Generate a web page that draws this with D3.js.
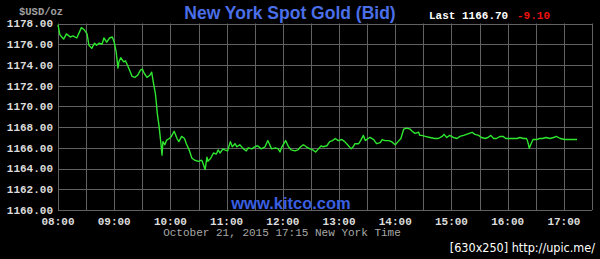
<!DOCTYPE html>
<html><head><meta charset="utf-8">
<script src="https://cdn.jsdelivr.net/npm/d3@7"></script>
<style>
html,body{margin:0;padding:0;background:#000;}
svg{display:block;}
</style></head>
<body>
<svg id="c" width="600" height="259"></svg>
<script>
// minutes after 08:00
const minutes = [0,2,6,9,13,16,20,22,25,28,31,33,36,39,41,44,47,49,52,55,58,60,62,64,65,67,70,72,75,79,82,85,88,90,92,95,98,100,102,104,105,106,108,110,111,112,114,116,119,121,124,127,129,132,135,137,140,143,146,150,153,154,157,159,160,163,166,169,171,173,176,178,181,184,186,189,191,194,198,201,203,207,210,213,217,221,224,228,232,235,237,239,243,246,249,253,256,259,262,265,269,272,275,278,281,283,287,290,293,296,299,303,306,310,313,315,317,321,323,326,328,331,333,337,340,344,346,349,353,356,360,363,366,369,372,376,378,381,385,386,388,392,397,402,406,410,412,415,418,422,426,429,433,436,439,442,445,449,452,456,459,462,465,468,472,475,478,482,486,490,493,497,500,501,502,503,505,507,511,514,517,521,525,529,532,536,541,546,554];
const prices = [1177.9,1176.9,1176.5,1177.0,1176.7,1176.8,1176.6,1177.0,1177.6,1177.4,1177.0,1175.9,1175.6,1176.1,1175.9,1176.1,1176.0,1176.6,1176.2,1176.6,1176.7,1176.2,1175.3,1173.7,1174.3,1174.7,1174.3,1174.4,1173.8,1172.9,1172.8,1173.0,1173.5,1173.6,1173.2,1172.8,1173.0,1173.3,1172.2,1171.2,1170.3,1169.3,1168.0,1166.3,1165.3,1166.6,1166.3,1166.75,1166.9,1167.1,1167.6,1166.9,1166.6,1167.1,1166.9,1166.4,1165.8,1165.0,1164.8,1164.7,1164.8,1164.7,1163.9,1165.1,1164.7,1165.0,1165.5,1165.4,1165.8,1165.5,1165.9,1165.8,1165.7,1166.6,1166.1,1166.4,1166.1,1166.3,1165.9,1165.7,1166.0,1165.9,1166.1,1166.2,1165.9,1166.1,1166.7,1165.9,1166.0,1165.9,1165.6,1166.1,1166.7,1166.1,1165.8,1165.7,1165.8,1166.1,1166.3,1166.1,1165.9,1165.8,1165.6,1165.9,1166.2,1166.1,1166.2,1166.6,1166.7,1166.9,1166.7,1166.8,1166.6,1166.2,1165.9,1166.1,1166.4,1166.4,1166.7,1167.2,1166.7,1166.9,1167.0,1166.8,1166.4,1166.5,1166.8,1166.7,1166.7,1166.6,1166.3,1166.6,1166.9,1167.8,1167.9,1167.8,1167.6,1167.4,1167.5,1167.2,1167.2,1167.1,1167.0,1166.9,1166.9,1167.1,1167.3,1167.0,1167.2,1167.0,1166.9,1167.1,1167.2,1167.3,1167.4,1167.5,1167.3,1167.2,1167.0,1166.9,1167.0,1167.2,1166.9,1166.9,1167.1,1167.1,1166.9,1166.9,1166.9,1166.9,1167.0,1166.9,1166.9,1166.7,1166.4,1165.95,1166.4,1166.8,1166.8,1166.9,1166.9,1167.0,1166.9,1167.0,1167.1,1166.9,1166.8,1166.8,1166.8,1166.8];
const yTicks = [1160,1162,1164,1166,1168,1170,1172,1174,1176,1178];
const xTickLabels = ["08:00","09:00","10:00","11:00","12:00","13:00","14:00","15:00","16:00","17:00"];
const title = "New York Spot Gold (Bid)";
const lastPrice = "Last 1166.70";
const change = "-9.10";
const unit = "$USD/oz";
const dateLine = "October 21, 2015 17:15 New York Time";
const watermark = "www.kitco.com";
const stamp = "[630x250] http://upic.me/";

const svg = d3.select("#c");
const L = 58, R = 592, T = 23.5, B = 210;
const x = d3.scaleLinear().domain([0, 570]).range([L, R]);
const y = d3.scaleLinear().domain([1160, 1178]).range([B, T]);
const mono = "'Liberation Mono','DejaVu Sans Mono',monospace";
const gridCol = "#626262";

svg.append("rect").attr("width",600).attr("height",259).attr("fill","#000");

// grid
const g = svg.append("g");
g.selectAll("line.h").data(yTicks).join("line")
  .attr("x1",L).attr("x2",R).attr("y1",d=>Math.round(y(d))+0.5).attr("y2",d=>Math.round(y(d))+0.5)
  .attr("stroke",gridCol).attr("stroke-width",1);
g.selectAll("line.v").data(d3.range(0,571,30)).join("line")
  .attr("y1",T).attr("y2",B).attr("x1",d=>Math.round(x(d))+0.5).attr("x2",d=>Math.round(x(d))+0.5)
  .attr("stroke",gridCol).attr("stroke-width",1);

// y labels
svg.selectAll("text.yl").data(yTicks).join("text")
  .attr("x",53).attr("y",d=>y(d)).attr("dy","0.35em").attr("text-anchor","end")
  .attr("font-family",mono).attr("font-weight","bold").attr("font-size",11).attr("fill","#dcdcdc")
  .text(d=>d.toFixed(2));
// x labels
svg.selectAll("text.xl").data(xTickLabels).join("text")
  .attr("x",(d,i)=>x(i*60)).attr("y",221).attr("dy","0.35em").attr("text-anchor","middle")
  .attr("font-family",mono).attr("font-weight","bold").attr("font-size",11).attr("fill","#dcdcdc")
  .text(d=>d);

svg.append("text").attr("x",19).attr("y",11).attr("dy","0.35em")
  .attr("font-family",mono).attr("font-weight","bold").attr("font-size",10.5).attr("fill","#a0a0a0").text(unit);

svg.append("text").attr("x",282).attr("y",232).attr("dy","0.35em").attr("text-anchor","middle")
  .attr("font-family",mono).attr("font-size",11).attr("fill","#a8a8a8").text(dateLine);

// title
svg.append("text").attr("x",290).attr("y",13).attr("dy","0.35em").attr("text-anchor","middle")
  .attr("font-family","'Liberation Sans',Arial,sans-serif").attr("font-weight","bold").attr("font-size",17.5)
  .attr("fill","#4a6fe8").text(title);
svg.append("text").attr("x",291).attr("y",203).attr("dy","0.35em").attr("text-anchor","middle")
  .attr("font-family","'Liberation Sans',Arial,sans-serif").attr("font-weight","bold").attr("font-size",16.5)
  .attr("fill","#3a5fe0").text(watermark);

svg.append("text").attr("x",429).attr("y",15).attr("dy","0.35em")
  .attr("font-family",mono).attr("font-weight","bold").attr("font-size",11).attr("fill","#ffffff").text(lastPrice);
svg.append("text").attr("x",517).attr("y",15).attr("dy","0.35em")
  .attr("font-family",mono).attr("font-weight","bold").attr("font-size",11).attr("fill","#ee1111").text(change);

// line
const data = minutes.map((m,i)=>({m, p:prices[i]}));
svg.append("path").datum(data)
  .attr("fill","none").attr("stroke","#2ee62e").attr("stroke-width",1.4).attr("stroke-linejoin","round")
  .attr("d", d3.line().x(d=>x(d.m)).y(d=>y(d.p)));

svg.append("text").attr("x",595).attr("y",248).attr("dy","0.35em").attr("text-anchor","end")
  .attr("font-family","'DejaVu Sans Condensed','DejaVu Sans',sans-serif").attr("font-size",12.5).attr("fill","#ffffff").text(stamp);
</script>
</body></html>
